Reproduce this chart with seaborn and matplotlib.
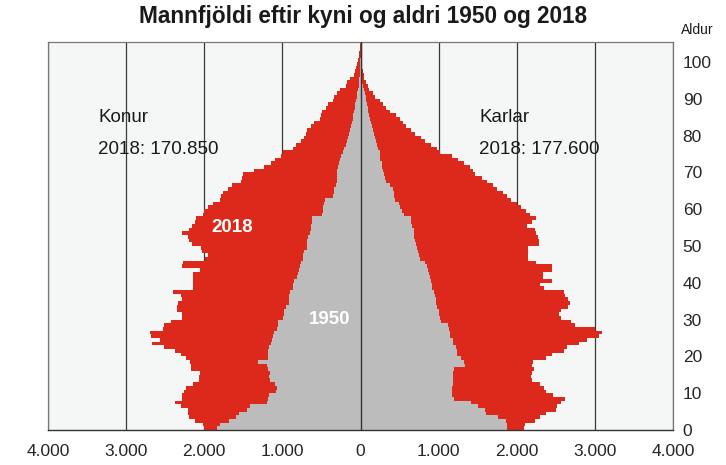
import numpy as np
import pandas as pd
import matplotlib
matplotlib.use("Agg")
import matplotlib.pyplot as plt
import seaborn as sns

# Population by age (0..105)
ages = list(range(106))

women_2018 = [2000, 2020, 2120, 2200, 2210, 2210, 2300, 2380, 2290, 2280,
              2260, 2230, 2150, 2070, 2070, 2060, 2170, 2170, 2180, 2230,
              2300, 2370, 2520, 2670, 2570, 2680, 2690, 2530, 2520, 2420,
              2290, 2280, 2350, 2350, 2340, 2290, 2300, 2400, 2150, 2140,
              2140, 2140, 2140, 2060, 2290, 2270, 1990, 1950, 2030, 2040,
              2160, 2200, 2210, 2290, 2200, 2160, 2120, 2100, 2020, 2000,
              1950, 1890, 1800, 1780, 1760, 1700, 1650, 1530, 1520, 1500,
              1360, 1230, 1140, 1100, 1020, 990, 860, 820, 760, 720,
              700, 690, 630, 600, 520, 500, 490, 440, 420, 350,
              340, 300, 260, 180, 170, 130, 80, 70, 60, 50,
              30, 25, 15, 10, 8, 5]

men_2018 = [2090, 2100, 2230, 2300, 2380, 2500, 2510, 2560, 2620, 2470,
            2380, 2350, 2300, 2200, 2180, 2200, 2220, 2200, 2210, 2370,
            2450, 2600, 2640, 2800, 2900, 3050, 3090, 3000, 2750, 2700,
            2560, 2540, 2560, 2650, 2680, 2650, 2620, 2600, 2350, 2300,
            2450, 2330, 2330, 2450, 2450, 2250, 2150, 2150, 2150, 2140,
            2280, 2280, 2270, 2250, 2230, 2130, 2200, 2250, 2170, 2120,
            2050, 2000, 1920, 1870, 1830, 1750, 1700, 1620, 1560, 1470,
            1440, 1400, 1320, 1250, 1170, 1020, 980, 900, 830, 780,
            700, 640, 580, 550, 500, 450, 380, 320, 290, 250,
            185, 160, 110, 90, 70, 50, 40, 30, 20, 15,
            10, 8, 5, 3, 3, 2]

women_1950 = [1840, 1800, 1680, 1600, 1560, 1450, 1420, 1200, 1180, 1170,
              1080, 1070, 1100, 1160, 1170, 1160, 1180, 1200, 1310, 1190,
              1190, 1180, 1170, 1140, 1130, 1120, 1110, 1070, 1060, 1050,
              990, 985, 980, 960, 920, 915, 910, 900, 870, 860,
              850, 810, 800, 790, 780, 760, 730, 730, 720, 690,
              680, 680, 670, 650, 640, 630, 625, 620, 490, 480,
              475, 470, 455, 350, 345, 340, 310, 305, 300, 300,
              300, 290, 280, 260, 250, 220, 210, 190, 170, 160,
              150, 140, 120, 110, 100, 90, 85, 75, 65, 60,
              50, 45, 35, 25, 20, 15, 10, 8, 5, 3,
              2, 0, 0, 0, 0, 0]

men_1950 = [1880, 1870, 1860, 1760, 1600, 1590, 1500, 1420, 1200, 1170,
            1170, 1170, 1180, 1190, 1190, 1190, 1200, 1340, 1330, 1290,
            1240, 1230, 1220, 1190, 1180, 1150, 1150, 1130, 1120, 1030,
            1020, 1010, 1000, 980, 970, 960, 950, 940, 920, 910,
            900, 890, 880, 860, 850, 830, 760, 750, 740, 720,
            710, 700, 690, 680, 680, 660, 650, 640, 560, 530,
            510, 490, 440, 430, 425, 420, 380, 320, 310, 300,
            290, 280, 270, 255, 250, 245, 230, 210, 200, 180,
            170, 165, 150, 130, 120, 110, 100, 95, 85, 75,
            65, 55, 45, 35, 25, 20, 15, 10, 6, 4,
            2, 0, 0, 0, 0, 0]

x_ticks = [-4000, -3000, -2000, -1000, 0, 1000, 2000, 3000, 4000]
y_ticks = list(range(0, 101, 10))

red = "#dc291c"
grey = "#bbbcbb"

sns.set_theme(style="white")
plt.rcParams["font.family"] = ["Liberation Sans", "DejaVu Sans"]

df = pd.DataFrame({
    "age_mid": np.array(ages) + 0.5,
    "w18": -np.array(women_2018), "m18": np.array(men_2018),
    "w50": -np.array(women_1950), "m50": np.array(men_1950),
})

fig = plt.figure(figsize=(7.26, 4.65), dpi=100)
ax = fig.add_axes([48 / 726, 1 - 430 / 465, 625 / 726, 388 / 465])
ax.set_facecolor("#f5f7f6")

for col, c in [("w18", red), ("m18", red), ("w50", grey), ("m50", grey)]:
    sns.barplot(data=df, x=col, y="age_mid", orient="y", native_scale=True,
                width=1, color=c, saturation=1, errorbar=None,
                linewidth=0, antialiased=False, ax=ax)

ax.set_axisbelow(True)
ax.xaxis.grid(True, color="#3a3a3a", linewidth=0.9)
ax.yaxis.grid(False)
ax.axvline(0, color="#333333", linewidth=1.0, zorder=5)

ax.set_xlim(-4000, 4000)
ax.set_ylim(0, 105.4)
ax.set_xticks(x_ticks)
ax.set_xticklabels([f"{abs(v):,}".replace(",", ".") for v in x_ticks], fontsize=12.5)
ax.set_yticks(y_ticks)
ax.set_yticklabels([str(v) for v in y_ticks], fontsize=12.5)
ax.yaxis.tick_right()
ax.tick_params(axis="y", length=0, pad=7)
ax.tick_params(axis="x", direction="out", length=4, width=0.9, color="#333333", pad=6)
ax.set_xlabel("")
ax.set_ylabel("")

for s in ["top", "left", "right"]:
    ax.spines[s].set_color("#777777")
    ax.spines[s].set_linewidth(0.9)
ax.spines["bottom"].set_color("#333333")
ax.spines["bottom"].set_linewidth(1.0)

ax.text(-3360, 84.8, "Konur", fontsize=13.5, va="center", ha="left", color="#1a1a1a")
ax.text(-3360, 76.1, "2018: 170.850", fontsize=13.5, va="center", ha="left", color="#1a1a1a")
ax.text(1520, 84.8, "Karlar", fontsize=13.5, va="center", ha="left", color="#1a1a1a")
ax.text(1520, 76.1, "2018: 177.600", fontsize=13.5, va="center", ha="left", color="#1a1a1a")
ax.text(-1645, 54.9, "2018", fontsize=13.5, fontweight="bold", color="white",
        ha="center", va="center", zorder=6)
ax.text(-390, 29.9, "1950", fontsize=13.5, fontweight="bold", color="white",
        ha="center", va="center", zorder=6)

fig.text(697 / 726, 1 - 30 / 465, "Aldur", fontsize=10, ha="center", va="center", color="#1a1a1a")
fig.text(363 / 726, 1 - 17 / 465, "Mannfjöldi eftir kyni og aldri 1950 og 2018",
         fontsize=16.3, fontweight="bold", ha="center", va="center", color="#1a1a1a")

fig.savefig("out.png", dpi=100)
